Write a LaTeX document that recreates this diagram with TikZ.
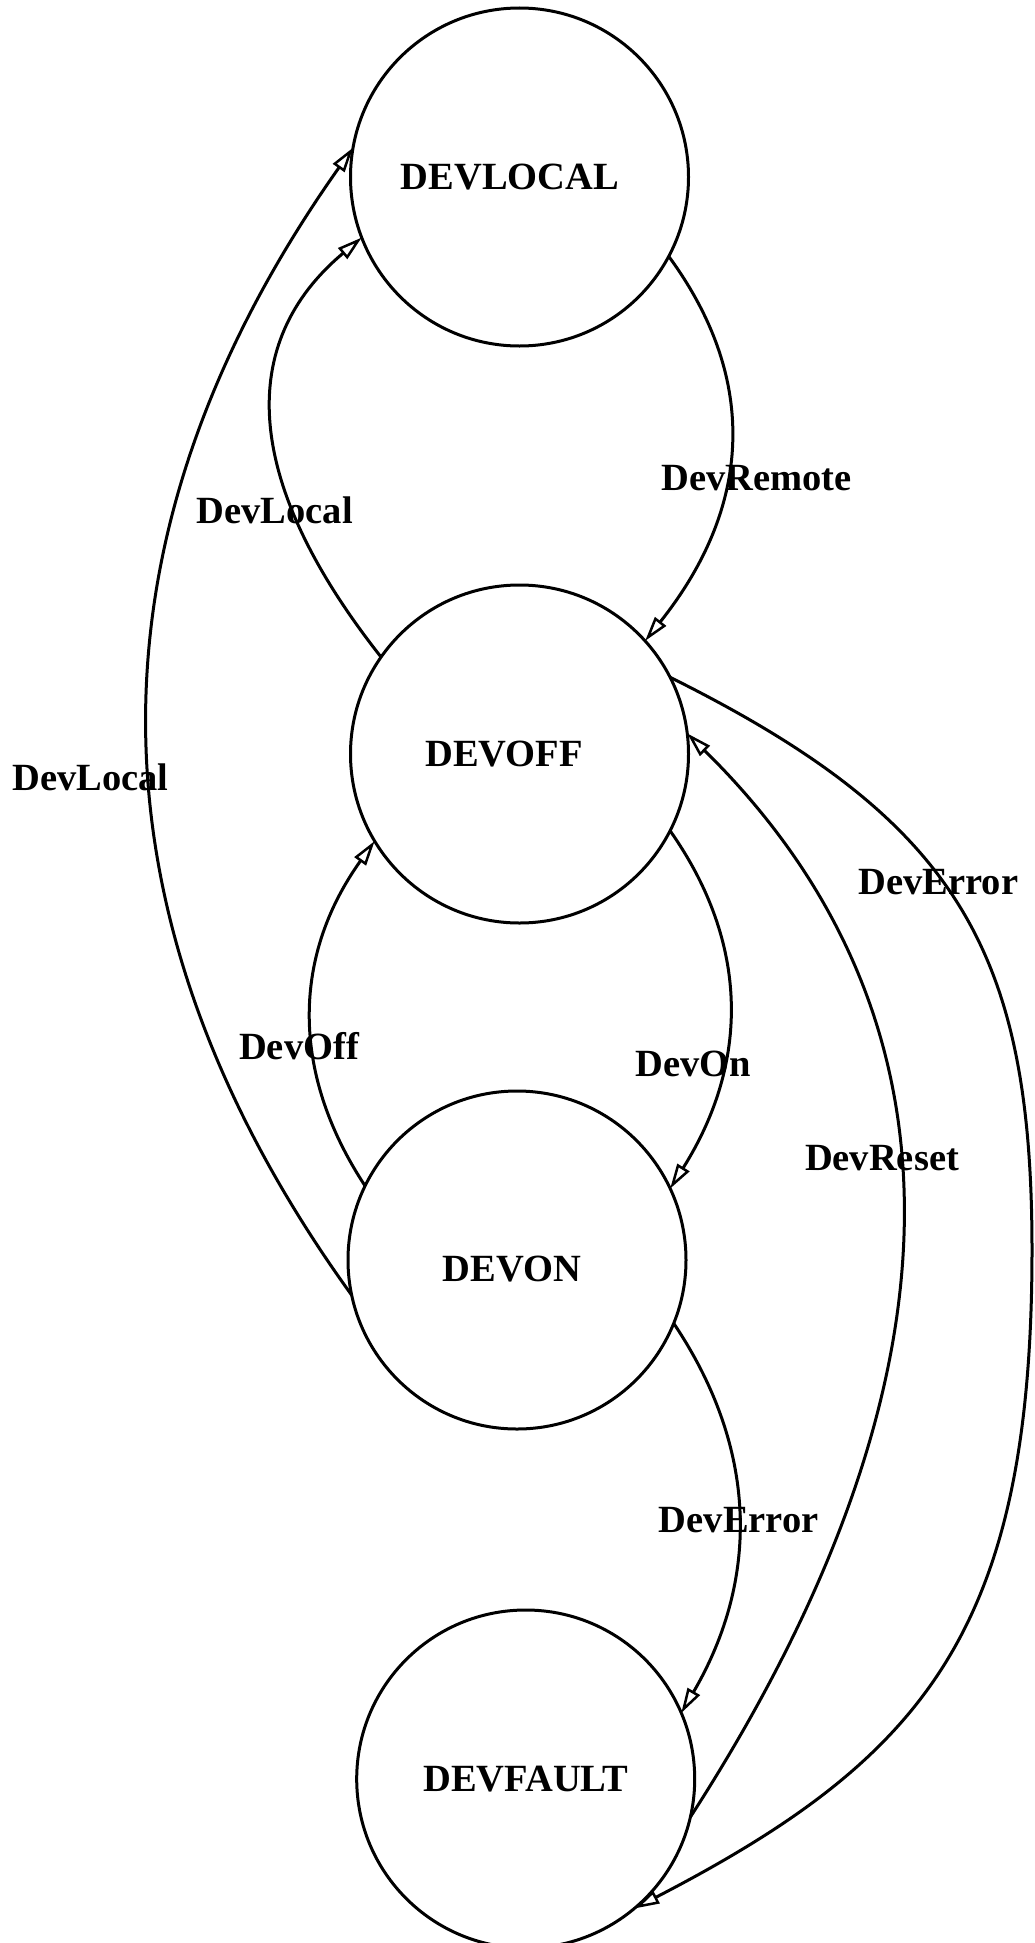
\documentclass[tikz,border=0pt]{standalone}
\usepackage{fontspec}
\setmainfont{Liberation Serif}
\usetikzlibrary{arrows.meta}
\begin{document}
\begin{tikzpicture}[x=1pt,y=-1pt,
  state/.style={circle,draw,line width=3pt,minimum size=338pt,inner sep=0pt,outer sep=0pt},
  lbl/.style={font=\fontsize{38.5}{40}\selectfont\bfseries,inner sep=0pt},
  tr/.style={line width=3pt,-{Triangle[open,length=25pt,width=14pt,line width=2.5pt]}}]
\useasboundingbox (0,0) rectangle (1034,1943);
% states
\node[state] (L) at (519.5,177) {};
\node[state] (O) at (519.5,754) {};
\node[state] (N) at (517,1260) {};
\node[state] (F) at (525.7,1779) {};
\node[lbl] (tL) at (510,177) {DEVLOCAL};
\node[lbl] (tO) at (504,754) {DEVOFF};
\node[lbl] (tN) at (512,1269) {DEVON};
\node[lbl] (tF) at (526,1779) {DEVFAULT};
% transitions
\draw[tr] (L.-28.2) .. controls (760.3,381.3) and (750.6,508.3) .. (O.42.6);
\draw[tr] (O.145.5) .. controls (241.3,479.7) and (237,342.3) .. (L.201.9);
\draw[tr] (N.192.5) .. controls (78.7,916.7) and (79.3,535) .. (L.170.8);
\draw[tr] (O.-27) .. controls (749.7,944) and (749.3,1062.7) .. (N.25.1);
\draw[tr] (N.154.5) .. controls (288.7,1069.7) and (294,954) .. (O.-149);
\draw[tr] (N.-22.7) .. controls (758,1449) and (759.7,1578.3) .. (F.23.4);
\draw[tr] (F.-13) .. controls (974.7,1376.3) and (972,1014) .. (O.7.7);
\coordinate (m8) at (1032,1250);
\draw[tr] (O.27.9) .. controls (956.9,820) and (1032,950) .. (m8)
  .. controls (1032,1630) and (924.7,1758) .. (F.-50.9);
% labels
\node[lbl] (eRemote) at (756.7,478) {DevRemote};
\node[lbl] (eLocalIn) at (274.7,510) {DevLocal};
\node[lbl] (eLocalOut) at (90.5,777) {DevLocal};
\node[lbl] (eOff) at (299,1046) {DevOff};
\node[lbl] (eOn) at (693.5,1064) {DevOn};
\node[lbl] (eErrLow) at (738.8,1520) {DevError};
\node[lbl] (eReset) at (882,1158) {DevReset};
\node[lbl] (eErrUp) at (938.3,882) {DevError};
\end{tikzpicture}
\end{document}
